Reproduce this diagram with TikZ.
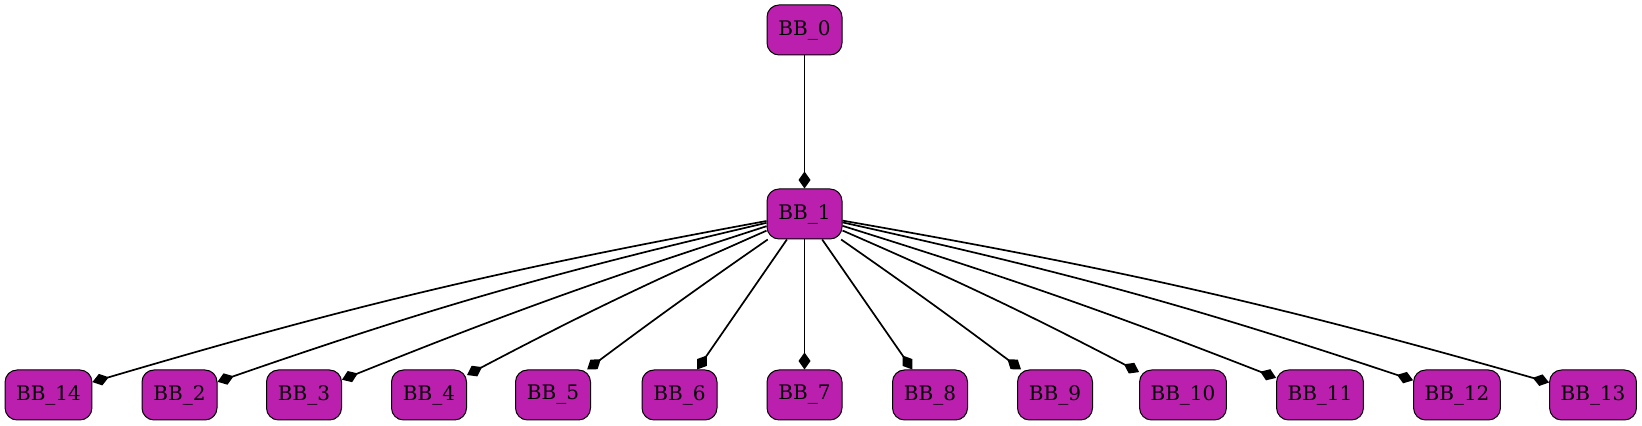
\documentclass[tikz,border=0pt]{standalone}
\usepackage{fontspec}
\setmainfont{DejaVu Serif}
\usetikzlibrary{arrows.meta,positioning}
\definecolor{bbmag}{RGB}{187,31,173}
\tikzset{
  bloque/.style={draw=black, line width=0.5pt, fill=bbmag, rounded corners=6pt, minimum width=37.5pt, minimum height=25pt, inner xsep=5.5pt, font=\fontsize{10}{12}\selectfont},
  fl/.style={-{Diamond[length=8.5pt, width=6pt]}, line width=0.85pt, black},
}
\begin{document}
\begin{tikzpicture}[x=0.5pt,y=0.5pt]
  \useasboundingbox (0,0) rectangle (1642,426);
  \node[bloque] (b0) at (804.5,396) {BB\_0};
  \node[bloque] (b1) at (804.5,212) {BB\_1};
  % bottom row
  \node[bloque] (b14) at (48.5,31) {BB\_14};
  \node[bloque] (b2) at (179.5,31) {BB\_2};
  \node[bloque] (b3) at (304,31) {BB\_3};
  \node[bloque] (b4) at (429,31) {BB\_4};
  \node[bloque] (b5) at (553,31) {BB\_5};
  \node[bloque] (b6) at (679.5,31) {BB\_6};
  \node[bloque] (b7) at (804.5,31) {BB\_7};
  \node[bloque] (b8) at (930,31) {BB\_8};
  \node[bloque] (b9) at (1055,31) {BB\_9};
  \node[bloque] (b10) at (1183,31) {BB\_10};
  \node[bloque] (b11) at (1320,31) {BB\_11};
  \node[bloque] (b12) at (1457,31) {BB\_12};
  \node[bloque] (b13) at (1593,31) {BB\_13};
  \draw[fl] (b0)--(b1);
  \draw[fl] (b1) to[bend right=3] (b14);
  \draw[fl] (b1) to[bend right=3] (b2);
  \draw[fl] (b1) to[bend right=2] (b3);
  \draw[fl] (b1) to[bend right=2] (b4);
  \draw[fl] (b1) to[bend right=1] (b5);
  \draw[fl] (b1)--(b6); \draw[fl] (b1)--(b7); \draw[fl] (b1)--(b8);
  \draw[fl] (b1) to[bend left=1] (b9);
  \draw[fl] (b1) to[bend left=2] (b10);
  \draw[fl] (b1) to[bend left=2] (b11);
  \draw[fl] (b1) to[bend left=3] (b12);
  \draw[fl] (b1) to[bend left=3] (b13);
\end{tikzpicture}
\end{document}
